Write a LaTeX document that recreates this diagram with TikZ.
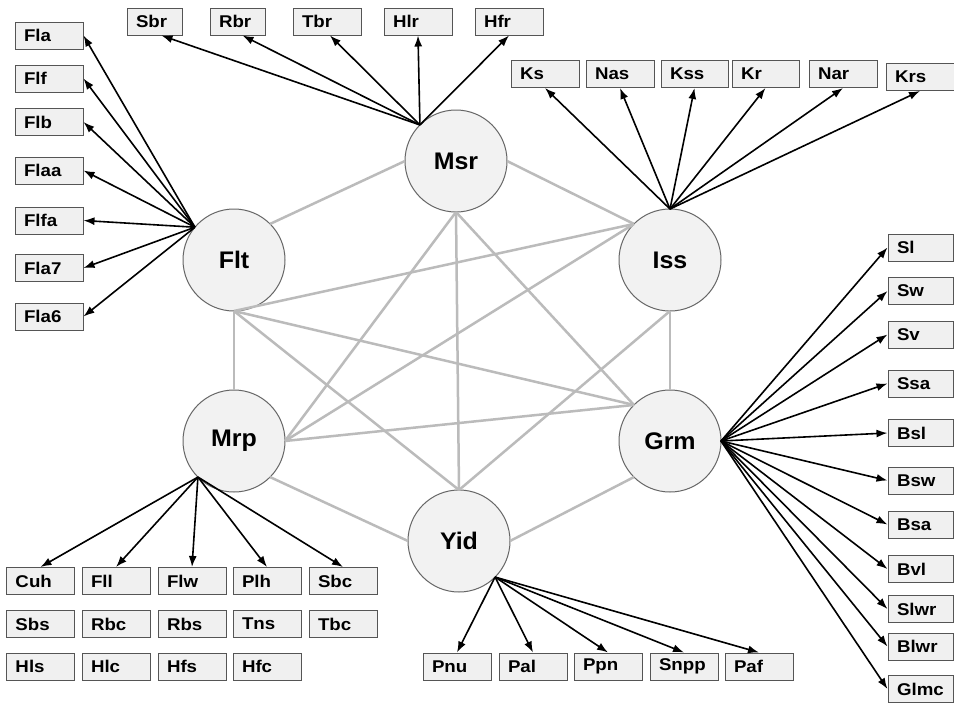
\documentclass[tikz,border=0pt]{standalone}
\usepackage{fontspec}
\setmainfont{Liberation Sans}
\newfontfamily\boxfont[FakeStretch=1.1]{Liberation Sans}
\newfontfamily\circfont[FakeStretch=1.04]{Liberation Sans}
\usetikzlibrary{arrows.meta}
\definecolor{boxfill}{HTML}{F0F0F0}
\definecolor{boxline}{HTML}{555555}
\definecolor{circfill}{HTML}{F2F2F2}
\definecolor{circline}{HTML}{666666}
\definecolor{edgegray}{HTML}{BBBBBB}
\tikzset{
  bx/.style={draw=boxline, fill=boxfill, line width=1pt, rectangle, minimum height=27pt,
    inner xsep=9pt, inner ysep=0pt, text width=#1, align=left,
    font=\boxfont\fontsize{17}{19}\selectfont\bfseries},
  bx/.default=50pt,
  hub/.style={draw=circline, fill=circfill, line width=1pt, circle, minimum size=102pt,
    inner sep=0pt, outer sep=0pt, font=\circfont\fontsize{24}{27}\selectfont\bfseries},
  link/.style={draw=edgegray, line width=2.5pt},
  arr/.style={draw=black, line width=1.6pt, -{Latex[length=11pt,width=8pt]}}
}
\begin{document}
\begin{tikzpicture}[x=1pt,y=-1pt]
\useasboundingbox[fill=white] (0,0) rectangle (954,705);
% hubs
\node[hub] (Msr) at (456,161) {Msr};
\node[hub] (Flt) at (234,260) {Flt};
\node[hub] (Iss) at (670,260) {Iss};
\node[hub] (Mrp) at (234,441) {Mrp};
\node[hub] (Grm) at (670,441) {Grm};
\node[hub] (Yid) at (459,541) {Yid};
% left column
\node[bx] (Fla) at (49,35.5) {Fla};
\node[bx] (Flf) at (49,78.5) {Flf};
\node[bx] (Flb) at (49,122) {Flb};
\node[bx] (Flaa) at (49,170.5) {Flaa};
\node[bx] (Flfa) at (49,220.5) {Flfa};
\node[bx] (Fla7) at (49,268) {Fla7};
\node[bx] (Fla6) at (49,316.5) {Fla6};
% top
\node[bx=37pt] (Sbr) at (154.5,21.5) {Sbr};
\node[bx=37pt] (Rbr) at (237.5,21.5) {Rbr};
\node[bx] (Tbr) at (327,21.5) {Tbr};
\node[bx] (Hlr) at (418,21.5) {Hlr};
\node[bx] (Hfr) at (509,21.5) {Hfr};
% top right
\node[bx] (Ks) at (545,74) {Ks};
\node[bx] (Nas) at (620,74) {Nas};
\node[bx=49pt] (Kss) at (694.5,74) {Kss};
\node[bx=49pt] (Kr) at (765.5,74) {Kr};
\node[bx] (Nar) at (843,74) {Nar};
\node[bx] (Krs) at (920,77) {Krs};
% right column
\node[bx=47pt] (Sl) at (920.5,247.5) {Sl};
\node[bx=47pt] (Sw) at (920.5,291) {Sw};
\node[bx=47pt] (Sv) at (920.5,334.5) {Sv};
\node[bx=47pt] (Ssa) at (920.5,383.5) {Ssa};
\node[bx=47pt] (Bsl) at (920.5,433) {Bsl};
\node[bx=47pt] (Bsw) at (920.5,480.5) {Bsw};
\node[bx=47pt] (Bsa) at (920.5,524.5) {Bsa};
\node[bx=47pt] (Bvl) at (920.5,569) {Bvl};
\node[bx=47pt] (Slwr) at (920.5,609) {Slwr};
\node[bx=47pt] (Blwr) at (920.5,646.5) {Blwr};
\node[bx=47pt] (Glmc) at (920.5,689) {Glmc};
% bottom left grid
\node[bx] (Cuh) at (40.5,581) {Cuh};
\node[bx] (Fll) at (116,581) {Fll};
\node[bx] (Flw) at (192,581) {Flw};
\node[bx] (Plh) at (267,581) {Plh};
\node[bx] (Sbc) at (343,581) {Sbc};
\node[bx] (Sbs) at (40.5,624) {Sbs};
\node[bx] (Rbc) at (116,624) {Rbc};
\node[bx] (Rbs) at (192,624) {Rbs};
\node[bx] (Tns) at (267,624) {Tns};
\node[bx] (Tbc) at (343,624) {Tbc};
\node[bx] (Hls) at (40.5,666.5) {Hls};
\node[bx] (Hlc) at (116,666.5) {Hlc};
\node[bx] (Hfs) at (192,666.5) {Hfs};
\node[bx] (Hfc) at (267,666.5) {Hfc};
% bottom middle
\node[bx] (Pnu) at (457,666.5) {Pnu};
\node[bx] (Pal) at (533,666.5) {Pal};
\node[bx] (Ppn) at (608,666.5) {Ppn};
\node[bx] (Snpp) at (684,666.5) {Snpp};
\node[bx] (Paf) at (759,666.5) {Paf};
% gray links (complete graph)
\draw[link] (Flt.45) -- (Msr.west);
\draw[link] (Msr.east) -- (Iss.135);
\draw[link] (Flt.south) -- (Iss.135);
\draw[link] (Flt.south) -- (Mrp.north);
\draw[link] (Flt.south) -- (Yid.north);
\draw[link] (Flt.south) -- (Grm.135);
\draw[link] (Msr.south) -- (Mrp.east);
\draw[link] (Msr.south) -- (Yid.north);
\draw[link] (Msr.south) -- (Grm.135);
\draw[link] (Iss.south) -- (Grm.north);
\draw[link] (Iss.south) -- (Yid.north);
\draw[link] (Iss.135) -- (Mrp.east);
\draw[link] (Grm.135) -- (Mrp.east);
\draw[link] (Mrp.-45) -- (Yid.west);
\draw[link] (Yid.east) -- (Grm.225);
% Flt arrows
\foreach \b in {Fla,Flf,Flb,Flaa,Flfa,Fla7,Fla6} \draw[arr] (Flt.140) -- (\b.east);
% Msr arrows
\draw[arr] (Msr.135) -- ([xshift=7pt]Sbr.south);
\draw[arr] (Msr.135) -- ([xshift=5pt]Rbr.south);
\draw[arr] (Msr.135) -- ([xshift=3pt]Tbr.south);
\draw[arr] (Msr.135) -- (Hlr.south);
\draw[arr] (Msr.135) -- (Hfr.south);
% Iss arrows
\foreach \b in {Ks,Nas,Kss,Kr,Nar,Krs} \draw[arr] (Iss.north) -- (\b.south);
% Grm arrows
\foreach \b in {Sl,Sw,Sv,Ssa,Bsl,Bsw,Bsa,Bvl,Slwr,Blwr,Glmc} \draw[arr] (Grm.east) -- (\b.west);
% Mrp arrows
\foreach \b in {Cuh,Fll,Flw,Plh,Sbc} \draw[arr] (Mrp.225) -- (\b.north);
% Yid arrows
\foreach \b in {Pnu,Pal,Ppn,Snpp,Paf} \draw[arr] (Yid.-45) -- (\b.north);
\end{tikzpicture}
\end{document}
